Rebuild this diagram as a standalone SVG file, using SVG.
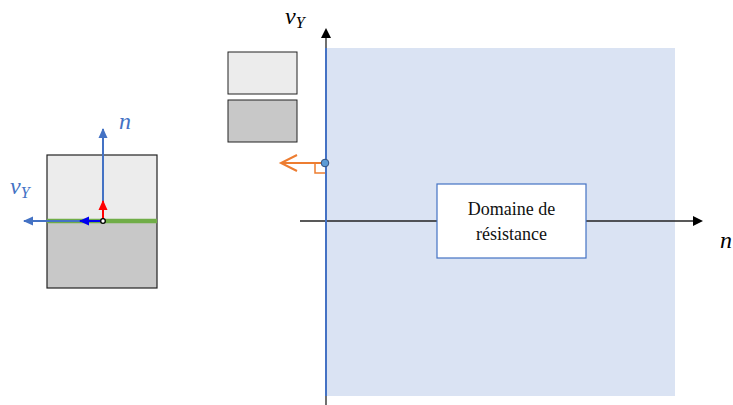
<svg xmlns="http://www.w3.org/2000/svg" width="733" height="405" viewBox="0 0 733 405">
<defs>
<marker id="ablk" markerWidth="10" markerHeight="10" refX="8" refY="5" orient="auto" markerUnits="userSpaceOnUse"><path d="M0,0 L10,5 L0,10 Z" fill="#000"/></marker>
<marker id="ablue" markerWidth="10" markerHeight="10" refX="9" refY="5" orient="auto" markerUnits="userSpaceOnUse"><path d="M0,0.5 L10,5 L0,9.5 Z" fill="#4472c4"/></marker>
<marker id="adblue" markerWidth="10" markerHeight="10" refX="9" refY="5" orient="auto" markerUnits="userSpaceOnUse"><path d="M0,0.5 L10,5 L0,9.5 Z" fill="#0000ee"/></marker>
<marker id="ared" markerWidth="10" markerHeight="10" refX="9" refY="5" orient="auto" markerUnits="userSpaceOnUse"><path d="M0,0.5 L10,5 L0,9.5 Z" fill="#ff0000"/></marker>
</defs>
<style>
.math{font-family:'Liberation Serif',serif;font-style:italic;}
.lbl{font-family:'Liberation Serif',serif;font-size:18px;fill:#111;}
</style>
<rect width="733" height="405" fill="#fff"/>
<g id="left-block">
<rect x="47" y="155" width="110" height="66" fill="#ececec"/>
<rect x="47" y="221" width="110" height="67" fill="#c8c8c8"/>
<rect x="47" y="155" width="110" height="133" fill="none" stroke="#222" stroke-width="1.2"/>
<line x1="47" y1="221" x2="157" y2="221" stroke="#70ad47" stroke-width="4.5"/>
</g>
<g id="connectors">
<line x1="103" y1="221" x2="103" y2="129" stroke="#4472c4" stroke-width="2" marker-end="url(#ablue)"/>
<line x1="80" y1="221" x2="24" y2="221" stroke="#4472c4" stroke-width="2" marker-end="url(#ablue)"/>
<line x1="103" y1="221" x2="80" y2="221" stroke="#0000ee" stroke-width="2" marker-end="url(#adblue)"/>
<line x1="103" y1="221" x2="103" y2="201" stroke="#ff0000" stroke-width="2" marker-end="url(#ared)"/>
<circle cx="103" cy="221" r="2.3" fill="#fff" stroke="#000" stroke-width="1.3"/>
</g>
<text class="math" x="119" y="129" font-size="24" fill="#4472c4" font-family="Liberation Serif, serif" font-style="italic">n</text>
<text class="math" x="10" y="194" font-size="24" fill="#4472c4" font-family="Liberation Serif, serif" font-style="italic">v<tspan font-size="16" dy="4">Y</tspan></text>
<g id="legend">
<rect x="228" y="52" width="69" height="42" fill="#ececec" stroke="#222" stroke-width="1"/>
<rect x="228" y="100" width="69" height="42" fill="#c8c8c8" stroke="#222" stroke-width="1"/>
</g>
<g id="domain">
<rect x="326" y="48" width="349" height="348" fill="#dae3f3"/>
</g>
<g id="axes">
<line x1="326" y1="405" x2="326" y2="30" stroke="#222" stroke-width="1.3" marker-end="url(#ablk)"/>
<line x1="300" y1="221" x2="701" y2="221" stroke="#222" stroke-width="1.3" marker-end="url(#ablk)"/>
<line x1="326" y1="48" x2="326" y2="396" stroke="#4472c4" stroke-width="2"/>
</g>
<text class="math" x="285" y="24" font-size="24" fill="#000" font-family="Liberation Serif, serif" font-style="italic">v<tspan font-size="16" dy="4">Y</tspan></text>
<text class="math" x="720" y="248" font-size="24" fill="#000" font-family="Liberation Serif, serif" font-style="italic">n</text>
<g id="normal">
<line x1="325" y1="163" x2="281" y2="163" stroke="#ed7d31" stroke-width="2"/>
<polyline points="297,155 281,163 297,171" fill="none" stroke="#ed7d31" stroke-width="2"/>
<polyline points="315,163 315,173 325,173" fill="none" stroke="#ed7d31" stroke-width="1.5"/>
<circle cx="325" cy="163" r="3.8" fill="#5b9bd5" stroke="#2f4f7f" stroke-width="1"/>
</g>
<g id="label-box">
<rect x="437" y="184" width="149" height="74" fill="#fff" stroke="#4472c4" stroke-width="1.2"/>
<text class="lbl" x="511.5" y="215" text-anchor="middle" font-family="Liberation Serif, serif" font-size="18">Domaine de</text>
<text class="lbl" x="511.5" y="240" text-anchor="middle" font-family="Liberation Serif, serif" font-size="18">résistance</text>
</g>
</svg>
